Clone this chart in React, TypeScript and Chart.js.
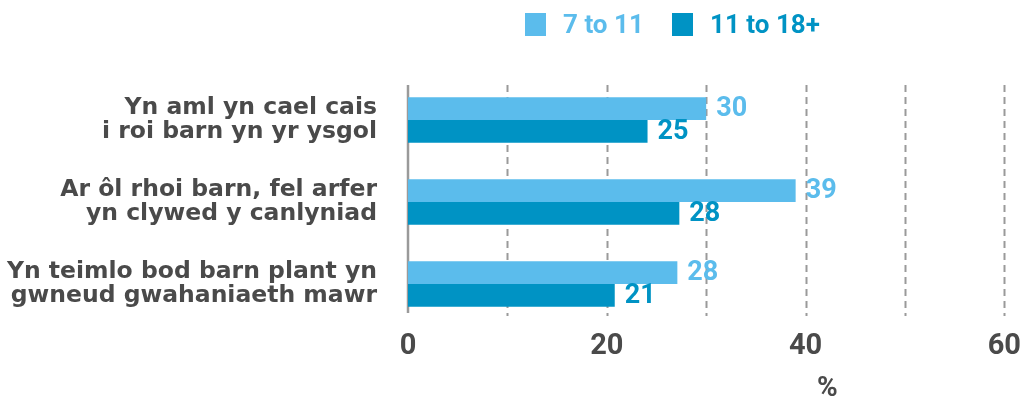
import React, { useEffect, useRef } from "react";
import { Chart, registerables } from "chart.js";

Chart.register(...registerables);

const categories: string[][] = [
  ["Yn aml yn cael cais", "i roi barn yn yr ysgol"],
  ["Ar ôl rhoi barn, fel arfer", "yn clywed y canlyniad"],
  ["Yn teimlo bod barn plant yn", "gwneud gwahaniaeth mawr"],
];
const seriesNames = ["7 to 11", "11 to 18+"];
const youngerValues = [30, 39, 27.1];
const olderValues = [24.1, 27.3, 20.8];
const youngerLabels = ["30", "39", "28"];
const olderLabels = ["25", "28", "21"];
const xTicks = [0, 20, 40, 60];
const gridValues = [10, 20, 30, 40, 50, 60];
const axisTitle = "%";

const LIGHT = "#5bbcec";
const DARK = "#0093c4";
const TEXT = "#4a4a4a";
const FONT = "Roboto, 'Open Sans', sans-serif";
const LABEL_FONT = "'DejaVu Sans', sans-serif";

const gridPlugin = {
  id: "customGrid",
  beforeDatasetsDraw(chart: any) {
    const { ctx, chartArea } = chart;
    const x = chart.scales.x;
    const top = chartArea.top + 6;
    const bottom = chartArea.bottom - 12;
    ctx.save();
    ctx.strokeStyle = "#9a9a9a";
    ctx.lineWidth = 2;
    ctx.setLineDash([7, 5]);
    gridValues.forEach((v) => {
      const px = Math.round(x.getPixelForValue(v)) + 0.5;
      ctx.beginPath();
      ctx.moveTo(px, top);
      ctx.lineTo(px, bottom + 3);
      ctx.stroke();
    });
    ctx.setLineDash([]);
    ctx.lineWidth = 2.5;
    const p0 = x.getPixelForValue(0);
    ctx.beginPath();
    ctx.moveTo(p0, top);
    ctx.lineTo(p0, bottom);
    ctx.stroke();
    ctx.restore();
  },
  afterDatasetsDraw(chart: any) {
    const { ctx, chartArea } = chart;
    ctx.save();
    ctx.font = `bold 27px ${FONT}`;
    ctx.textAlign = "left";
    ctx.textBaseline = "middle";
    const labelSets = [youngerLabels, olderLabels];
    chart.data.datasets.forEach((ds: any, di: number) => {
      const meta = chart.getDatasetMeta(di);
      ctx.fillStyle = ds.backgroundColor;
      meta.data.forEach((el: any, i: number) => {
        ctx.fillText(labelSets[di][i], el.x + 10, el.y + 1);
      });
    });
    ctx.fillStyle = TEXT;
    ctx.textAlign = "center";
    ctx.font = `bold 28px ${FONT}`;
    ctx.fillText(axisTitle, chartArea.left + (chartArea.right - chartArea.left) * 0.703, 389);
    ctx.restore();
  },
};

export default function App() {
  const ref = useRef<HTMLCanvasElement>(null);
  useEffect(() => {
    document.body.style.margin = "0";
    const chart = new Chart(ref.current!, {
      type: "bar",
      data: {
        labels: categories,
        datasets: [
          { label: seriesNames[0], data: youngerValues, backgroundColor: LIGHT, barPercentage: 1, categoryPercentage: 0.555 },
          { label: seriesNames[1], data: olderValues, backgroundColor: DARK, barPercentage: 1, categoryPercentage: 0.555 },
        ],
      },
      options: {
        indexAxis: "y",
        animation: false,
        responsive: false,
        maintainAspectRatio: false,
        layout: { padding: { top: 79, right: 17, left: 0, bottom: 0 } },
        plugins: { legend: { display: false }, tooltip: { enabled: false } },
        scales: {
          x: {
            min: 0,
            max: 60,
            afterBuildTicks: (s: any) => {
              s.ticks = xTicks.map((v) => ({ value: v }));
            },
            afterFit: (s: any) => {
              s.height = 80;
            },
            grid: { display: false, drawTicks: false },
            border: { display: false },
            ticks: {
              color: TEXT,
              padding: 4,
              font: { family: FONT, size: 29, weight: "bold" },
            },
          },
          y: {
            afterFit: (s: any) => {
              s.width = 408;
            },
            grid: { display: false, drawTicks: false },
            border: { display: false },
            ticks: {
              color: TEXT,
              padding: 31,
              font: { family: LABEL_FONT, size: 23.5, weight: "bold", lineHeight: 1.03 },
            },
          },
        },
      },
      plugins: [gridPlugin],
    });
    return () => chart.destroy();
  }, []);

  const legendItem = (name: string, color: string, left: number) => (
    <div style={{ position: "absolute", left, top: 13, display: "flex", alignItems: "center" }}>
      <div style={{ width: 21, height: 23, background: color }} />
      <span style={{ marginLeft: 17, color, font: `bold 26px ${FONT}`, lineHeight: "23px" }}>{name}</span>
    </div>
  );

  return (
    <div style={{ position: "relative", width: 1025, height: 405 }}>
      <canvas ref={ref} width={1025} height={405} style={{ display: "block" }} />
      {legendItem(seriesNames[0], LIGHT, 525)}
      {legendItem(seriesNames[1], DARK, 672)}
    </div>
  );
}
